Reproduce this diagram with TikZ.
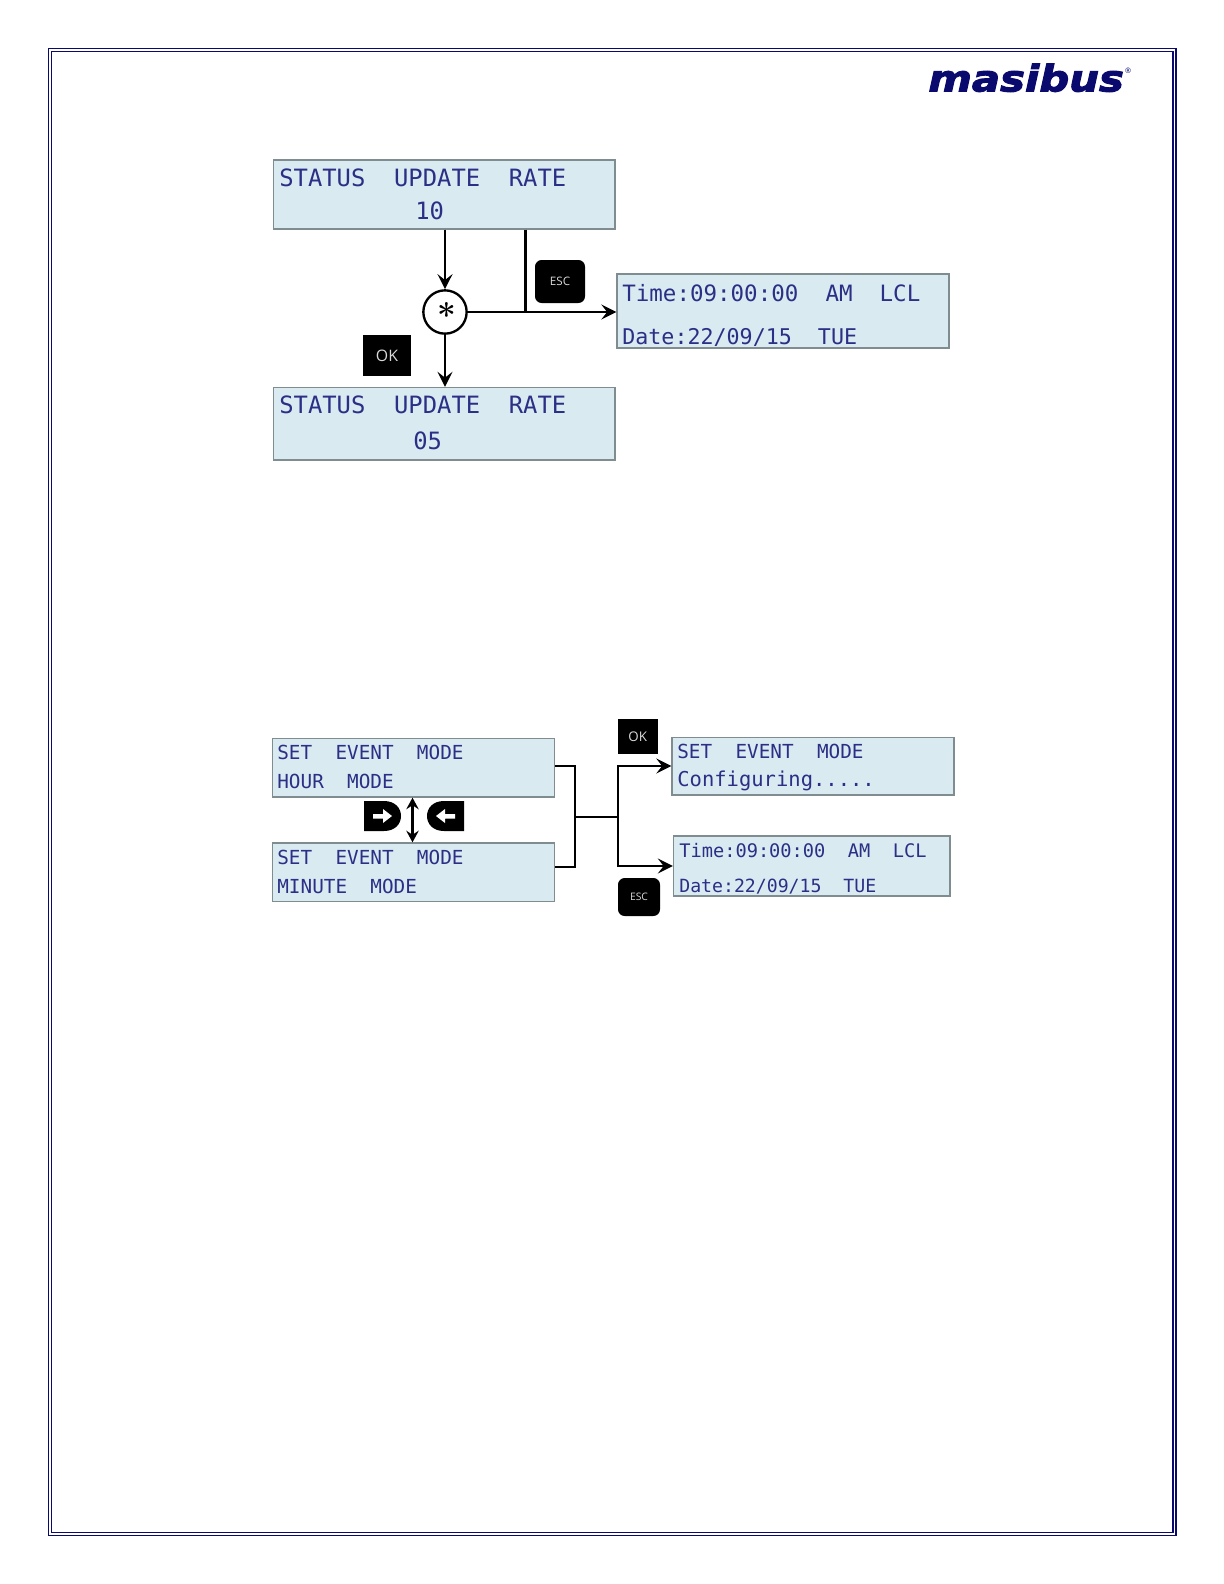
\documentclass[tikz,border=0pt]{standalone}
\usepackage{graphicx}
\usepackage{fontspec}
\usetikzlibrary{arrows.meta,fit,calc}
\newfontfamily\lcdfont{DejaVu Sans Mono}
\newfontfamily\keyfont{Open Sans}
\newfontfamily\logofont[BoldFont={DejaVu Sans Bold},BoldItalicFont={DejaVu Sans Bold Oblique},BoldItalicFeatures={FakeBold=2.5}]{DejaVu Sans}
\definecolor{lcdfill}{HTML}{D9EAF1}
\definecolor{lcdedge}{HTML}{7F8C90}
\definecolor{lcdtext}{HTML}{2C2F85}
\definecolor{navy}{HTML}{0A0A6E}
\tikzset{
  lcdbox/.style={draw=lcdedge,fill=lcdfill,line width=0.8pt,inner sep=0pt},
  lcdline/.style={anchor=base west,inner sep=0pt,text=lcdtext},
  big/.style={font=\lcdfont\fontsize{14.3}{14.3}\selectfont},
  mid/.style={font=\lcdfont\fontsize{13.5}{13.5}\selectfont},
  middate/.style={font=\lcdfont\fontsize{13}{13}\selectfont},
  small/.style={font=\lcdfont\fontsize{11.6}{11.6}\selectfont},
  cfg/.style={font=\lcdfont\fontsize{12.3}{12.3}\selectfont},
  smaller/.style={font=\lcdfont\fontsize{11.2}{11.2}\selectfont},
  smalldate/.style={font=\lcdfont\fontsize{10.9}{10.9}\selectfont},
  keybox/.style={fill=black,inner sep=0pt},
  keytext/.style={text=white!85!black,inner sep=0pt},
  wire/.style={line width=1.5pt,draw=black},
  arr/.style={wire,-{Stealth[length=9pt,width=9pt,inset=3.5pt]}},
  arrboth/.style={wire,line width=1.3pt,{Stealth[length=7pt,width=7.5pt,inset=2.5pt]}-{Stealth[length=7pt,width=7.5pt,inset=2.5pt]}}
}
\begin{document}
\begin{tikzpicture}[x=0.6pt,y=-0.6pt]
\useasboundingbox (0,0) rectangle (1224,1584);
% page frame
\draw[navy,line width=0.7pt] (48.5,48.5) rectangle (1176,1535.5);
\draw[navy,line width=0.7pt] (51.5,51.5) rectangle (1173,1532.5);
% logo
\node[inner sep=0pt,anchor=base west,text=navy,font=\logofont\bfseries\itshape\fontsize{22}{22}\selectfont] (logo) at (928,91.5) {\scalebox{1.14}[1]{masibus}};
\node[inner sep=0pt,text=navy,font=\logofont\fontsize{4.5}{4.5}\selectfont] (reg) at (1128,71) {®};
% first diagram
\node[lcdbox,fit={(273.5,160)(615,229)}] (s1) {};
\node[lcdbox,fit={(273.5,387.5)(615,460)}] (s2) {};
\node[lcdbox,fit={(617,274)(949,348)}] (t1) {};
\node[lcdline,big] (s1a) at (279,186) {STATUS\ \ UPDATE\ \ RATE};
\node[lcdline,big] (s1b) at (415,219) {10};
\node[lcdline,big] (s2a) at (279,413) {STATUS\ \ UPDATE\ \ RATE};
\node[lcdline,big] (s2b) at (413,449) {05};
\node[lcdline,mid] (t1a) at (622,301) {Time:09:00:00\ \ AM\ \ LCL};
\node[lcdline,middate] (t1b) at (622,344) {Date:22/09/15\ \ TUE};
\node[circle,draw=black,fill=white,line width=1.4pt,minimum size=26pt,inner sep=0pt] (star) at (445,312) {};
\node[inner sep=0pt,font=\fontsize{20}{20}\selectfont\bfseries] (starmark) at (446.5,315) {*};
\coordinate (j1) at (525.5,312);
\draw[arr] (s1.south -| star) -- (star.north);
\draw[arr] (star.south) -- (s2.north -| star);
\draw[arr] (star.east) -- (t1.west |- star);
\draw[wire] (s1.south -| j1) -- (j1);
\node[keybox,rounded corners=4pt,fit={(535,260)(585,303)}] (esc1) {};
\node[keytext,font=\keyfont\fontsize{7}{7}\selectfont] (esc1t) at (esc1.center) {ESC};
\node[keybox,fit={(363,335)(411,376)}] (ok1) {};
\node[keytext,font=\keyfont\fontsize{9.5}{9.5}\selectfont] (ok1t) at (ok1.center) {OK};
% second diagram
\node[lcdbox,fit={(272.5,738.5)(554.5,797)}] (h1) {};
\node[lcdbox,fit={(272.5,843)(554.5,901.5)}] (m1) {};
\node[lcdbox,fit={(672,737.5)(954,795)}] (c1) {};
\node[lcdbox,fit={(673.5,836)(950,896)}] (t2) {};
\node[lcdline,small] (h1a) at (277,759) {SET\ \ EVENT\ \ MODE};
\node[lcdline,small] (h1b) at (277,788) {HOUR\ \ MODE};
\node[lcdline,small] (m1a) at (277,864) {SET\ \ EVENT\ \ MODE};
\node[lcdline,small] (m1b) at (277,893) {MINUTE\ \ MODE};
\node[lcdline,small] (c1a) at (677,758) {SET\ \ EVENT\ \ MODE};
\node[lcdline,cfg] (c1b) at (677,786) {Configuring.....};
\node[lcdline,smaller] (t2a) at (679,857) {Time:09:00:00\ \ AM\ \ LCL};
\node[lcdline,smalldate] (t2b) at (679,892) {Date:22/09/15\ \ TUE};
\coordinate (j2) at (575,817);
\coordinate (j3) at (618,817);
\coordinate (u1) at (618,766);
\coordinate (d1) at (618,866);
\draw[wire] (h1.east |- 0,766) -| (j2) |- (m1.east |- 0,867);
\draw[wire] (j2) -- (j3);
\draw[arr] (j3) -- (u1) -- (c1.west |- u1);
\draw[arr] (j3) -- (d1) -- (t2.west |- d1);
\draw[arrboth] (h1.south -| 412.5,0) -- (m1.north -| 412.5,0);
\node[keybox,fit={(618,719)(657.5,754)}] (ok2) {};
\node[keytext,font=\keyfont\fontsize{8}{8}\selectfont] (ok2t) at (ok2.center) {OK};
\node[keybox,rounded corners=4pt,fit={(618,878)(660,916)}] (esc2) {};
\node[keytext,font=\keyfont\fontsize{6.2}{6.2}\selectfont] (esc2t) at (esc2.center) {ESC};
% arrow keys
\fill[black] (364,801) -- (384,801) .. controls (395,801) and (401,808) .. (401,816) .. controls (401,824) and (395,831) .. (384,831) -- (364,831) -- cycle;
\fill[white] (373,814) -- (383,814) -- (383,809) -- (392,816) -- (383,823) -- (383,818.5) -- (373,818.5) -- cycle;
\fill[black] (464,801) -- (444,801) .. controls (433,801) and (427,808) .. (427,816) .. controls (427,824) and (433,831) .. (444,831) -- (464,831) -- cycle;
\fill[white] (455,814) -- (445,814) -- (445,809) -- (436,816) -- (445,823) -- (445,818.5) -- (455,818.5) -- cycle;
\end{tikzpicture}
\end{document}
